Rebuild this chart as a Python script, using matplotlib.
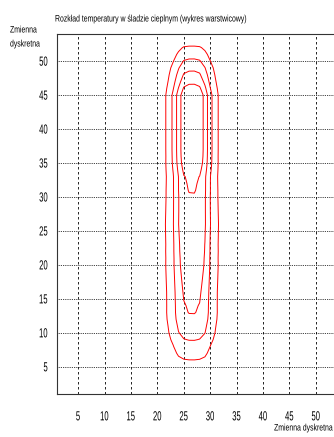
import numpy as np
import matplotlib
matplotlib.use("Agg")
import matplotlib.pyplot as plt
from matplotlib.patheffects import AbstractPathEffect
from matplotlib.transforms import Affine2D

plt.rcParams['font.family'] = ['Liberation Sans', 'DejaVu Sans']


class Squeeze(AbstractPathEffect):
    """Zweza napis w poziomie wokol wybranego punktu (0 - lewa, 1 - prawa krawedz)."""

    def __init__(self, sx=0.7, anchor=0.0):
        super().__init__()
        self.sx = sx
        self.anchor = anchor

    def draw_path(self, renderer, gc, tpath, affine, rgbFace=None):
        v = tpath.vertices
        if len(v):
            x0, x1 = v[:, 0].min(), v[:, 0].max()
            xa = x0 + self.anchor * (x1 - x0)
        else:
            xa = 0.0
        t = Affine2D().translate(-xa, 0).scale(self.sx, 1).translate(xa, 0) + affine
        renderer.draw_path(gc, tpath, t, rgbFace)


# siatka dyskretna 1..54 w obu kierunkach
x_nodes = np.arange(1, 55)
y_nodes = np.arange(1, 55)

# amplituda temperatury wzdluz osi sladu (wiersze y = 1..54)
amplitude = [0.0, 0.0, 0.0, 0.04, 0.12, 0.2, 0.27, 0.34, 0.41, 0.47,
             0.52, 0.58, 0.61, 0.62, 0.635, 0.65, 0.665, 0.68, 0.695, 0.71,
             0.72, 0.73, 0.74, 0.75, 0.76, 0.77, 0.775, 0.78, 0.788, 0.796,
             0.815, 0.825, 0.84, 0.9, 0.96, 0.99, 1.0, 1.0, 1.0, 1.0,
             1.0, 1.0, 1.0, 1.0, 1.0, 0.88, 0.76, 0.66, 0.56, 0.44,
             0.33, 0.23, 0.1, 0.0]

# poszerzenie sladu (wiersze y = 1..54)
spread = [1.2, 1.2, 1.2, 1.2, 1.2, 1.2, 1.2, 1.2, 1.2, 1.2,
          1.18, 1.16, 1.15, 1.14, 1.13, 1.12, 1.12, 1.12, 1.12, 1.12,
          1.11, 1.11, 1.1, 1.1, 1.1, 1.1, 1.09, 1.08, 1.07, 1.06,
          1.05, 1.04, 1.03, 1.02, 1.01, 1.0, 1.0, 1.0, 1.0, 1.0,
          1.0, 1.0, 1.0, 1.0, 1.0, 1.0, 1.0, 1.0, 1.0, 1.0,
          1.0, 1.0, 1.0, 1.0]

# profil poprzeczny: odleglosc od osi -> udzial temperatury
profile_dist = [0.0, 1.0, 1.5, 2.0, 2.25, 2.8, 3.75, 4.9, 6.0, 7.0]
profile_val = [1.0, 0.98, 0.94, 0.87, 0.8, 0.6, 0.4, 0.2, 0.05, 0.0]
trace_axis = 26.55

levels = [0.2, 0.4, 0.6, 0.8]
ticks = [5, 10, 15, 20, 25, 30, 35, 40, 45, 50]

X, Y = np.meshgrid(x_nodes, y_nodes)
A = np.array(amplitude)[:, None]
W = np.array(spread)[:, None]
T = A * np.interp(np.abs(X - trace_axis) / W, profile_dist, profile_val)

fig = plt.figure(figsize=(3.34, 4.37), dpi=100)
ax = fig.add_axes([57 / 334, 43 / 437, 280 / 334, 360 / 437])

ax.contour(X, Y, T, levels=levels, colors='#ff0000', linewidths=0.7)

ax.set_xlim(1, 54)
ax.set_ylim(1, 54)
ax.set_xticks(ticks)
ax.set_yticks(ticks)
ax.tick_params(length=0, labelsize=9.5)
ax.tick_params(axis='x', pad=12.5)
ax.tick_params(axis='y', pad=6.5)
for v in ticks:
    ax.axvline(v, color='black', lw=0.6, ls=(0, (3, 3)), zorder=0)
    ax.axhline(v, color='black', lw=0.6, ls=(0, (1, 1.2)), zorder=0)
for s in ax.spines.values():
    s.set_linewidth(0.8)
    s.set_color('#333333')

fig.canvas.draw()
for lbl in ax.get_xticklabels():
    lbl.set_path_effects([Squeeze(0.58, 0.5)])
for lbl in ax.get_yticklabels():
    lbl.set_path_effects([Squeeze(0.58, 1.0)])

small = dict(fontsize=6.8, va='center', ha='left', path_effects=[Squeeze(0.73, 0.0)])
fig.text(55 / 334, 1 - 19 / 437, 'Rozkład temperatury w śladzie cieplnym (wykres warstwicowy)', **small)
fig.text(10 / 334, 1 - 30 / 437, 'Zmienna', **small)
fig.text(10 / 334, 1 - 44 / 437, 'dyskretna', **small)
# podpis osi x dosuniety do prawej krawedzi
fig.text(333 / 334, 1 - 428 / 437, 'Zmienna dyskretna', fontsize=6.8, va='center', ha='right',
         path_effects=[Squeeze(0.73, 1.0)])

fig.savefig('out.png', dpi=100)
